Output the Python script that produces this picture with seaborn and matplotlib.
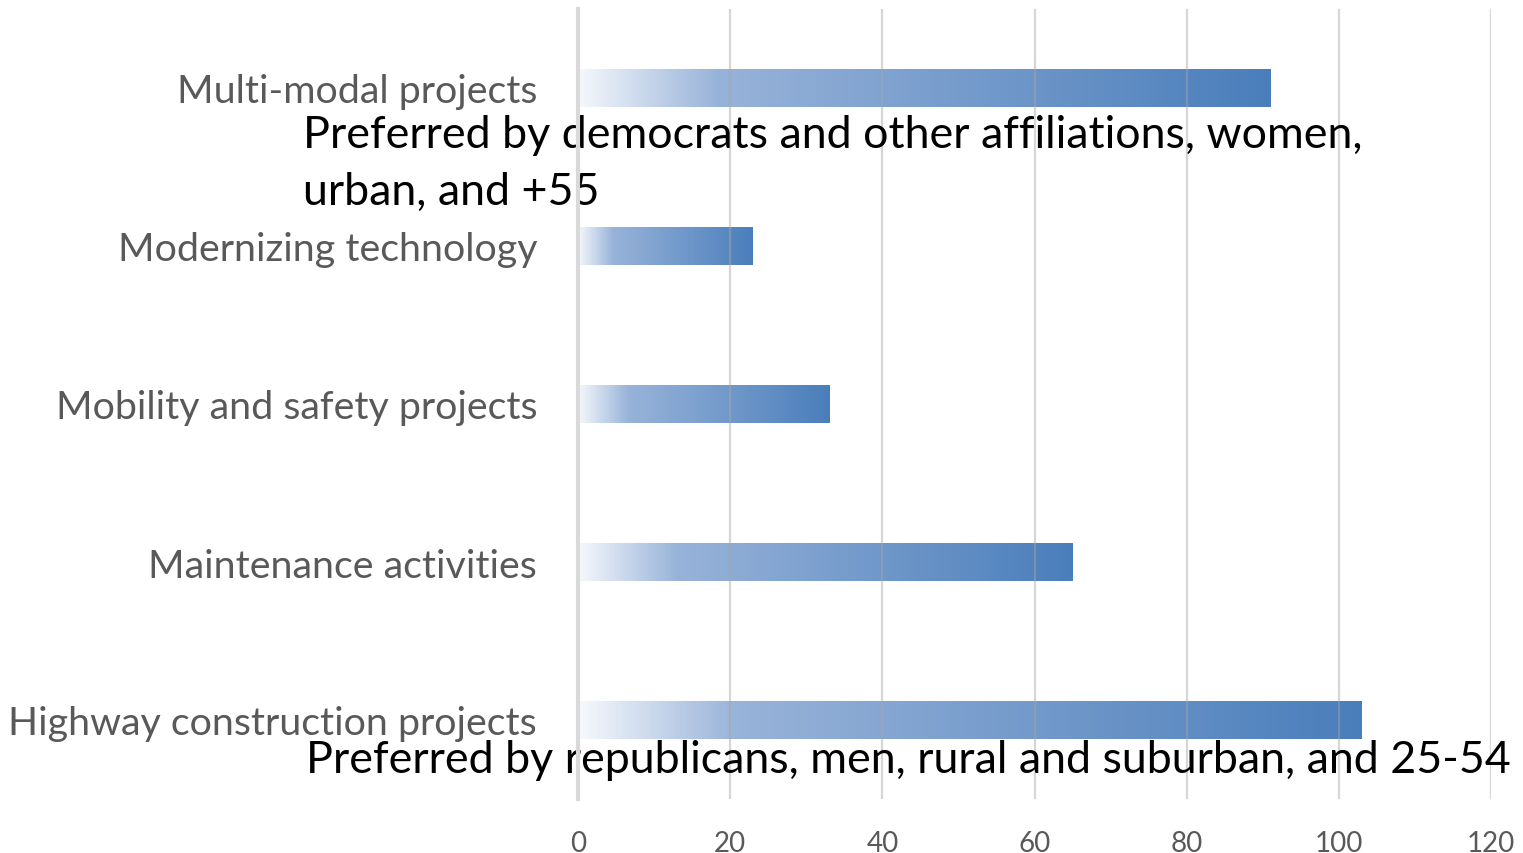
import matplotlib
matplotlib.use("Agg")
import matplotlib.pyplot as plt
import seaborn as sns
import numpy as np
import pandas as pd
from matplotlib.colors import LinearSegmentedColormap

categories = ["Multi-modal projects", "Modernizing technology", "Mobility and safety projects",
              "Maintenance activities", "Highway construction projects"]
values = [91, 23, 33, 65, 103]
xticks = [0, 20, 40, 60, 80, 100, 120]
note_top = "Preferred by democrats and other affiliations, women,\nurban, and +55"
note_bottom = "Preferred by republicans, men, rural and suburban, and 25-54"

df = pd.DataFrame({"category": categories, "value": values})

sns.set_theme(style="white")
plt.rcParams["font.family"] = ["Lato", "DejaVu Sans"]

W, H = 1523, 854
fig = plt.figure(figsize=(W / 100, H / 100), dpi=100)
ax = fig.add_axes([578 / W, 1 - 800 / H, (1491 - 578) / W, (800 - 10) / H])

sns.barplot(data=df, x="value", y="category", orient="h", ax=ax, width=0.24,
            color="#4F81BD", saturation=1)

cmap = LinearSegmentedColormap.from_list(
    "grad", [(0.0, "#F5F8FC"), (0.2, "#98B3D9"), (1.0, "#4A7EBB")])
grad = np.linspace(0, 1, 256).reshape(1, -1)
for p in ax.patches:
    x0, y0 = p.get_x(), p.get_y()
    w, h = p.get_width(), p.get_height()
    p.set_facecolor("none")
    p.set_edgecolor("none")
    ax.imshow(grad, cmap=cmap, aspect="auto", extent=(x0, x0 + w, y0 + h, y0),
              interpolation="bilinear", zorder=1)

ax.set_xlim(0, 120)
ax.set_ylim(4.5, -0.5)
ax.set_xticks(xticks)
ax.set_xticklabels([str(t) for t in xticks])
ax.grid(axis="x", color="#A6A6A6", alpha=0.45, linewidth=1.6, zorder=5)
ax.set_axisbelow(False)
for s in ["top", "right", "bottom"]:
    ax.spines[s].set_visible(False)
ax.spines["left"].set_color("#D9D9D9")
ax.spines["left"].set_linewidth(3)
ax.spines["left"].set_zorder(6)
ax.tick_params(axis="both", length=0)
ax.tick_params(axis="y", labelsize=28.4, labelcolor="#595959", pad=29.5)
ax.tick_params(axis="x", labelsize=20, labelcolor="#595959", pad=22)
ax.set_xlabel("")
ax.set_ylabel("")

ax.text(-36.2, 0.475, note_top, fontsize=32.2, color="black", ha="left", va="center",
        linespacing=1.46, zorder=4)
ax.text(-35.7, 4.25, note_bottom, fontsize=32.2, color="black", ha="left", va="center",
        zorder=4)

fig.savefig("out.png", dpi=100)
